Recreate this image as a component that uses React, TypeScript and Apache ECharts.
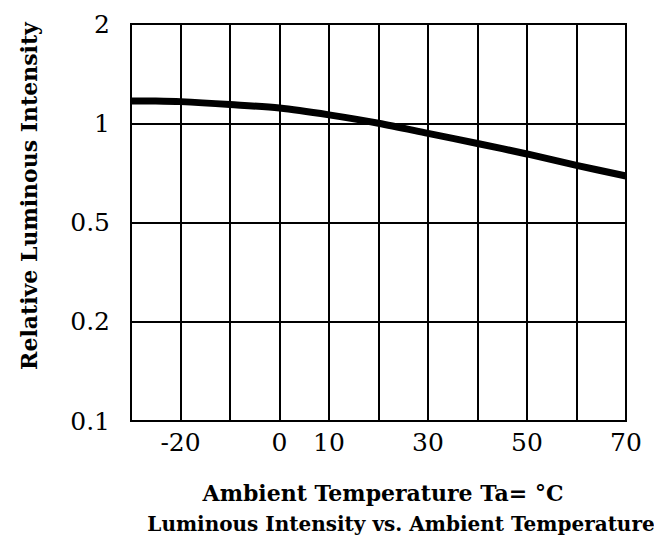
import React, { useEffect, useRef } from "react";
import * as echarts from "echarts";

// Data
const temperatures = [-30, -25, -20, -10, 0, 10, 20, 30, 40, 50, 60, 70];
const relativeIntensity = [1.169, 1.168, 1.163, 1.14, 1.112, 1.06, 1.0, 0.932, 0.868, 0.807, 0.745, 0.692];
const yTickValues = [0.1, 0.2, 0.5, 1, 2];
const xTickLabels = [-20, 0, 10, 30, 50, 70];

// The chart's y axis places its tick values at equal spacing (log within each segment)
function toAxisPos(v: number): number {
  for (let i = 0; i < yTickValues.length - 1; i++) {
    const a = yTickValues[i];
    const b = yTickValues[i + 1];
    if (v <= b || i === yTickValues.length - 2) {
      return i + Math.log(v / a) / Math.log(b / a);
    }
  }
  return 0;
}

const FONT = '"DejaVu Serif", "Liberation Serif", serif';

export default function App() {
  const ref = useRef<HTMLDivElement>(null);
  useEffect(() => {
    document.body.style.margin = "0";
    if (!ref.current) return;
    const chart = echarts.init(ref.current, undefined, { renderer: "svg" });
    const data = temperatures.map((t, i) => [t, toAxisPos(relativeIntensity[i])]);
    chart.setOption({
      animation: false,
      backgroundColor: "#fff",
      grid: {
        left: 131,
        right: 28,
        top: 24,
        bottom: 121,
        show: true,
        borderColor: "#000",
        borderWidth: 2,
      },
      xAxis: {
        type: "value",
        min: -30,
        max: 70,
        interval: 10,
        axisLine: { show: true, lineStyle: { color: "#000", width: 2 } },
        axisTick: { show: false },
        splitLine: { show: true, lineStyle: { color: "#000", width: 2 } },
        axisLabel: {
          color: "#000",
          fontFamily: FONT,
          fontSize: 25,
          margin: 9,
          showMinLabel: true,
          showMaxLabel: true,
          formatter: (v: number) => (xTickLabels.includes(v) ? String(v) : ""),
        },
      },
      yAxis: {
        type: "value",
        min: 0,
        max: yTickValues.length - 1,
        interval: 1,
        axisLine: { show: true, lineStyle: { color: "#000", width: 2 } },
        axisTick: { show: false },
        splitLine: { show: true, lineStyle: { color: "#000", width: 2 } },
        axisLabel: {
          color: "#000",
          fontFamily: FONT,
          fontSize: 25,
          margin: 21,
          formatter: (v: number) => String(yTickValues[Math.round(v)] ?? ""),
        },
      },
      series: [
        {
          type: "line",
          data,
          smooth: 0.3,
          symbol: "none",
          lineStyle: { color: "#000", width: 7 },
        },
      ],
      graphic: [
        {
          type: "text",
          x: 29,
          y: 196,
          rotation: Math.PI / 2,
          style: {
            text: "Relative Luminous Intensity",
            fontFamily: FONT,
            fontWeight: "bold",
            fontSize: 22,
            fill: "#000",
            align: "center",
            verticalAlign: "middle",
          },
        },
        {
          type: "text",
          x: 383,
          y: 493,
          style: {
            text: "Ambient Temperature Ta= °C",
            fontFamily: FONT,
            fontWeight: "bold",
            fontSize: 22,
            fill: "#000",
            align: "center",
            verticalAlign: "middle",
          },
        },
        {
          type: "text",
          x: 401,
          y: 524,
          style: {
            text: "Luminous Intensity vs. Ambient Temperature",
            fontFamily: FONT,
            fontWeight: "bold",
            fontSize: 20,
            fill: "#000",
            align: "center",
            verticalAlign: "middle",
          },
        },
      ],
    });
    return () => chart.dispose();
  }, []);
  return <div ref={ref} style={{ width: 654, height: 542 }} />;
}
